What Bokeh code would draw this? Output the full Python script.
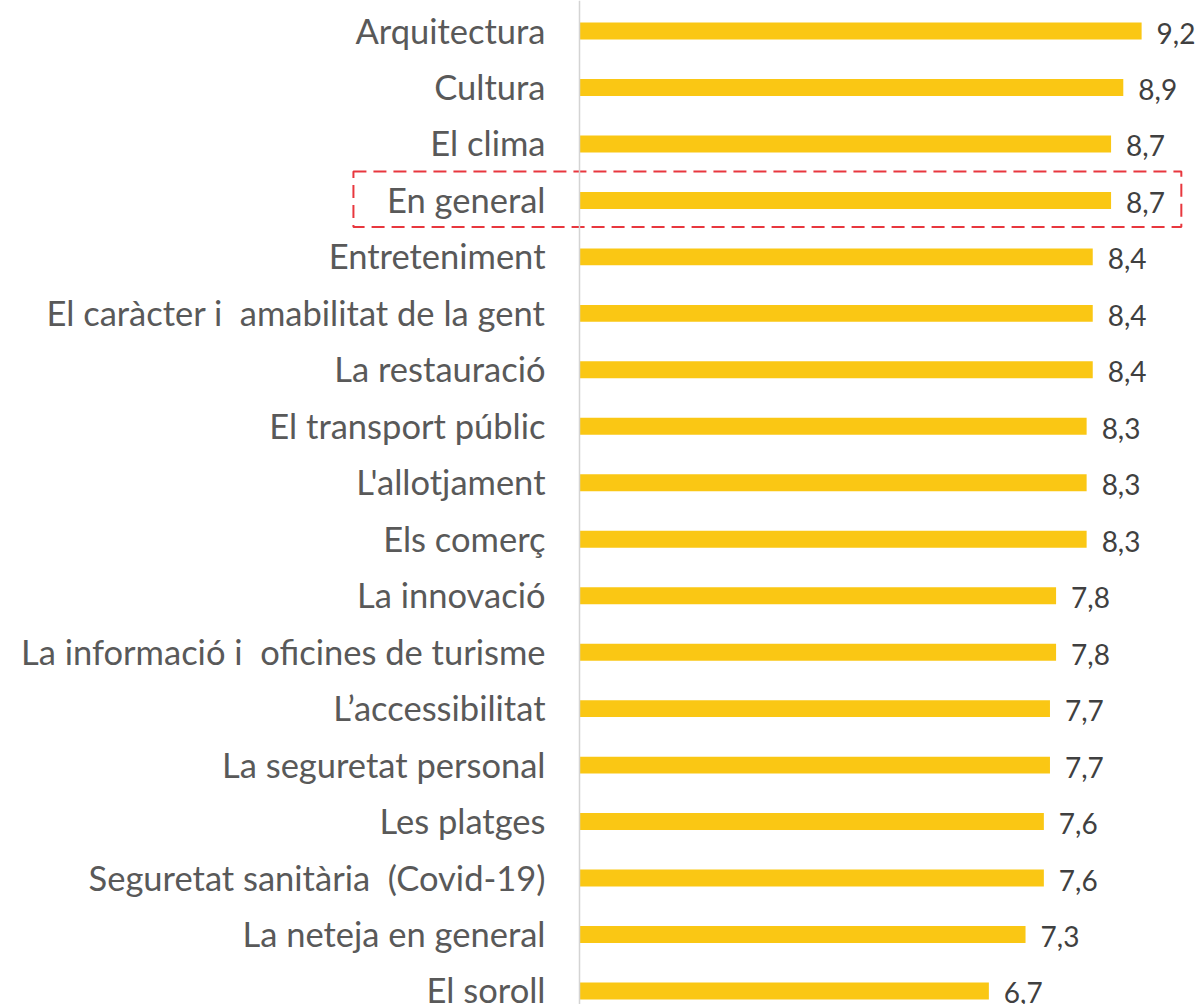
from bokeh.plotting import figure
from bokeh.models import Range1d, Span, ColumnDataSource
from bokeh.core.properties import value
from bokeh.embed import file_html
from bokeh.resources import INLINE

categories = [
    "Arquitectura", "Cultura", "El clima", "En general", "Entreteniment",
    "El caràcter i\u00a0 amabilitat de la gent", "La restauració", "El transport públic",
    "L'allotjament", "Els comerç", "La innovació", "La informació i\u00a0 oficines de turisme",
    "L’accessibilitat", "La seguretat personal", "Les platges",
    "Seguretat sanitària\u00a0 (Covid-19)", "La neteja en general", "El soroll",
]
values = [9.2, 8.9, 8.7, 8.7, 8.4, 8.4, 8.4, 8.3, 8.3, 8.3, 7.8, 7.8, 7.7, 7.7, 7.6, 7.6, 7.3, 6.7]
highlight = "En general"

W, H = 1198, 1004
PX_PER_UNIT = 61.1
ROW_PX = 56.47
X0_PX = 579.0
TOP_PX = 30.5

x_start = -X0_PX / PX_PER_UNIT
x_end = x_start + W / PX_PER_UNIT
y_top = -TOP_PX / ROW_PX
y_bottom = y_top + H / ROW_PX

rows = list(range(len(categories)))
src = ColumnDataSource(dict(
    y=rows, v=values, cat=categories,
    lbl=[f"{v:.1f}".replace(".", ",") for v in values],
))

p = figure(width=W, height=H, output_backend="svg", toolbar_location=None,
           x_range=Range1d(x_start, x_end), y_range=Range1d(y_bottom, y_top),
           min_border=0, min_border_left=0, min_border_right=0,
           min_border_top=0, min_border_bottom=0)
p.axis.visible = False
p.grid.visible = False
p.outline_line_color = None
p.background_fill_color = "white"
p.border_fill_color = "white"

p.hbar(y="y", left=0, right="v", height=0.30, source=src,
       fill_color="#FAC714", line_color=None)

p.add_layout(Span(location=0, dimension="height", line_color="#D4D4D4", line_width=1.5))

p.text(x=0, y="y", text="cat", source=src, x_offset=-34, y_offset=-1,
       text_align="right", text_baseline="middle",
       text_font=value("Lato"), text_font_size="34.5px", text_color="#595959")

p.text(x="v", y="y", text="lbl", source=src, x_offset=15, y_offset=2,
       text_align="left", text_baseline="middle",
       text_font=value("Lato"), text_font_size="28px", text_color="#404040")

# highlight box around "En general"
hi = categories.index(highlight)
p.quad(left=[-3.70], right=[9.85], top=[hi - 0.51], bottom=[hi + 0.47],
       fill_alpha=0, line_color="#E8373E", line_width=2, line_dash="13 7")

open("out.html", "w").write(file_html(p, INLINE))
